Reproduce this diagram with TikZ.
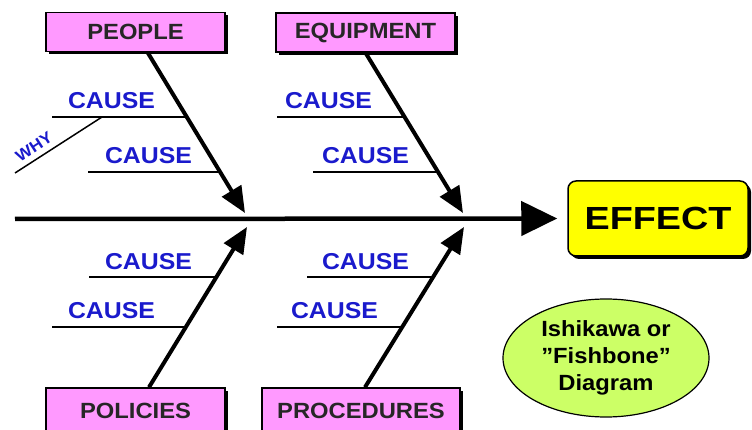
\documentclass[tikz,border=0pt]{standalone}
\usepackage{fontspec}
\setmainfont{Liberation Sans}
\newfontfamily\labfont{Liberation Sans}[FakeStretch=1.08]
\newfontfamily\efffont{Liberation Sans}[FakeStretch=1.18]
\usetikzlibrary{arrows.meta,shadows,shapes.geometric}
\definecolor{pinkbox}{HTML}{FF99FF}
\definecolor{causeblue}{HTML}{1A1ACC}
\definecolor{effyellow}{HTML}{FFFF00}
\definecolor{ellgreen}{HTML}{CCFF66}
\begin{document}
\begin{tikzpicture}[x=1pt,y=-1pt,
  catbox/.style={draw=black, line width=1.5pt, fill=pinkbox, minimum width=179pt,
    minimum height=39pt, inner sep=0pt, text=black!85,
    font=\labfont\fontsize{22}{24}\selectfont\bfseries,
    drop shadow={shadow xshift=3pt, shadow yshift=-3pt, fill=black, opacity=1}},
  effbox/.style={draw=black, line width=1.5pt, fill=effyellow, rounded corners=8pt,
    minimum width=180pt, minimum height=75pt, inner sep=0pt,
    font=\efffont\fontsize{32}{34}\selectfont\bfseries,
    drop shadow={shadow xshift=3pt, shadow yshift=-3pt, fill=black, opacity=1}},
  note/.style={ellipse, draw=black, line width=1.2pt, fill=ellgreen, minimum width=206pt,
    minimum height=118pt, inner sep=0pt, align=center,
    font=\labfont\fontsize{22}{27}\selectfont\bfseries},
  causetxt/.style={anchor=base, text=causeblue, inner sep=0pt,
    font=\labfont\fontsize{23}{25}\selectfont\bfseries},
  spine/.style={line width=4.5pt, -{Triangle[length=36pt,width=34pt]}},
  bone/.style={line width=4pt, -{Triangle[length=26pt,width=22pt]}},
  causeline/.style={line width=2pt},
]
\useasboundingbox (0,0) rectangle (752,430);

% category boxes
\node[catbox] (P) at (135.5,32) {PEOPLE};
\node[catbox] (E) at (365.5,32.5) {EQUIPMENT};
\node[catbox, minimum height=50pt] (Po) at (135.5,413) {\raisebox{5pt}{POLICIES}};
\node[catbox, minimum width=198pt, minimum height=50pt] (Pr) at (361,413) {\raisebox{5pt}{PROCEDURES}};

% effect and note
\node[effbox] (F) at (658,218.5) {EFFECT};
\node[note] (D) at (606,358) {Ishikawa or\\”Fishbone”\\Diagram};

% spine
\coordinate (S0) at (15,219);
\draw[spine] (S0) -- ([xshift=-10pt]F.west);

% bones
\coordinate (tP) at (245,213);
\coordinate (tE) at (463,213);
\coordinate (tPo) at (247,227);
\coordinate (tPr) at (464,227);
\draw[bone] ([xshift=12pt]P.south) -- (tP);
\draw[bone] (E.south) -- (tE);
\draw[bone] ([xshift=13.5pt]Po.north) -- (tPo);
\draw[bone] ([xshift=4pt]Pr.north) -- (tPr);

% cause lines
\draw[causeline] (52,117) -- (186,117);
\draw[causeline] (88,172) -- (220,172);
\draw[causeline] (277,117) -- (404,117);
\draw[causeline] (313,172) -- (438,172);
\draw[causeline] (89,277) -- (216,277);
\draw[causeline] (52,327) -- (186,327);
\draw[causeline] (307,277) -- (433,277);
\draw[causeline] (277,327) -- (402,327);

% why line
\draw[line width=1.5pt] (102,117) -- (15,173);
\node[rotate=33, text=causeblue, inner sep=0pt,
  font=\labfont\fontsize{16}{18}\selectfont\bfseries] (W) at (34,147) {WHY};

% cause labels
\node[causetxt] (c1) at (111.5,108.5) {CAUSE};
\node[causetxt] (c2) at (148.5,163.5) {CAUSE};
\node[causetxt] (c3) at (328.5,108.5) {CAUSE};
\node[causetxt] (c4) at (365.5,163.5) {CAUSE};
\node[causetxt] (c5) at (148.5,269.5) {CAUSE};
\node[causetxt] (c6) at (111.5,318.5) {CAUSE};
\node[causetxt] (c7) at (365.5,269.5) {CAUSE};
\node[causetxt] (c8) at (334.5,318.5) {CAUSE};
\end{tikzpicture}
\end{document}
